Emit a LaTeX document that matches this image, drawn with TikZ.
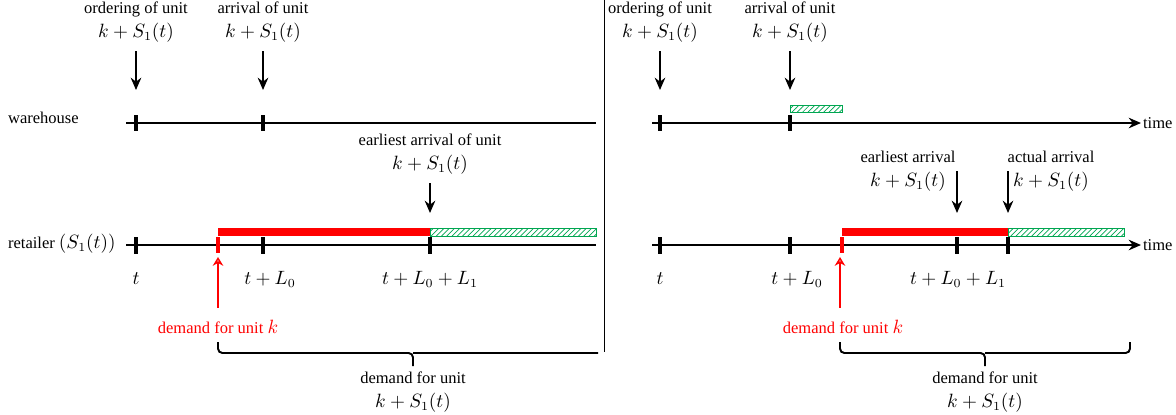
\documentclass[tikz,border=0pt]{standalone}
\usepackage{fontspec}
\setmainfont{Liberation Serif}
\usetikzlibrary{arrows.meta,positioning,patterns,calc}
\definecolor{hgreen}{RGB}{0,166,81}
\newcommand{\mth}[1]{{\fontsize{10.5}{12}\selectfont$#1$}}
\newcommand{\kS}{\mth{k+S_1(t)}}

\begin{document}
\begin{tikzpicture}[x=0.02cm,y=-0.02cm,
  lbl/.style={align=center,font=\rmfamily\fontsize{9.4}{11.5}\selectfont,inner sep=1pt},
  axis/.style={line width=1.1pt},
  taxis/.style={line width=1.1pt,-{Stealth[length=7pt,width=6pt]}},
  tck/.style={line width=1.9pt},
  rtck/.style={line width=1.9pt,red},
  arr/.style={-{Stealth[length=7pt,width=6pt]},line width=1.1pt},
  rarr/.style={-{Stealth[length=5pt,width=6pt,open]},line width=1.1pt,red},
  redbar/.style={fill=red},
  grnbar/.style={pattern={north east lines},pattern color=hgreen,draw=hgreen,line width=0.5pt},
  brc/.style={line width=1.1pt,rounded corners=2.5pt}]
\useasboundingbox (0,0) rectangle (1176,414);

% left panel: warehouse
\node[lbl] (ordL) at (136,22) {ordering of unit\\[2pt]\kS};
\node[lbl] (arrL) at (263,22) {arrival of unit\\[2pt]\kS};
\coordinate (ordLt) at (136,90);
\coordinate (arrLt) at (263,90);
\draw[arr,shorten <=4pt] (ordL) -- (ordLt);
\draw[arr,shorten <=4pt] (arrL) -- (arrLt);
\node[lbl,anchor=west] (whL) at (6,118) {warehouse};
\coordinate (whL0) at (126,123);
\coordinate (whL1) at (596,123);
\draw[axis] (whL0) -- (whL1);
\foreach \x in {136,263} \draw[tck] (\x,115) -- (\x,131);

% left panel: retailer
\node[lbl,anchor=west] (rtL) at (6,244) {retailer \mth{(S_1(t))}};
\node[lbl] (eaL) at (430,154) {earliest arrival of unit\\[2pt]\kS};
\coordinate (eaLt) at (430,213);
\draw[arr,shorten <=4pt] (eaL) -- (eaLt);
\fill[redbar] (218,228) rectangle (430,236);
\draw[grnbar] (430,228) rectangle (596,236);
\coordinate (rtL0) at (126,245);
\coordinate (rtL1) at (596,245);
\draw[axis] (rtL0) -- (rtL1);
\foreach \x in {136,263,430} \draw[tck] (\x,237) -- (\x,254);
\draw[rtck] (218,237) -- (218,253);
\node[lbl] (tL) at (136,279) {\mth{t}};
\node[lbl] (tLa) at (270,279) {\mth{t+L_0}};
\node[lbl] (tLb) at (430,279) {\mth{t+L_0+L_1}};
\node[lbl,red] (dkL) at (218,327) {demand for unit \mth{k}};
\coordinate (dkLt) at (218,257);
\draw[rarr,shorten <=6pt] (dkL) -- (dkLt);
\begin{scope}
\clip (0,0) rectangle (598,414);
\coordinate (bL0) at (218,342);
\coordinate (bL1) at (608,342);
\coordinate (bLm) at (413,353);
\coordinate (bLt) at (413,366);
\draw[brc] (bL0) |- (bLm) -- (bLt);
\draw[brc] (bL1) |- (bLm);
\end{scope}
\node[lbl] (duL) at (413,392) {demand for unit\\[2pt]\kS};

\draw[line width=0.5pt] (604,0) -- (604,352);

% right panel: warehouse
\node[lbl] (ordR) at (660,22) {ordering of unit\\[2pt]\kS};
\node[lbl] (arrR) at (790,22) {arrival of unit\\[2pt]\kS};
\coordinate (ordRt) at (660,90);
\coordinate (arrRt) at (790,90);
\draw[arr,shorten <=4pt] (ordR) -- (ordRt);
\draw[arr,shorten <=4pt] (arrR) -- (arrRt);
\draw[grnbar] (790,105) rectangle (842,112);
\coordinate (whR0) at (652,123);
\node[lbl,anchor=west] (whR) at (1141,123) {time};
\draw[taxis] (whR0) -- (whR);
\foreach \x in {660,790} \draw[tck] (\x,115) -- (\x,131);

% right panel: retailer
\node[lbl] (eaR) at (908,171) {earliest arrival\\[2pt]\kS};
\node[lbl] (aaR) at (1051,171) {actual arrival\\[2pt]\kS};
\coordinate (eaRt) at (957,213);
\coordinate (aaRt) at (1008,213);
\draw[arr] (eaRt |- eaR.center) -- (eaRt);
\draw[arr] (aaRt |- aaR.center) -- (aaRt);
\fill[redbar] (842,228) rectangle (1008,236);
\draw[grnbar] (1008,228) rectangle (1124,236);
\coordinate (rtR0) at (652,245);
\node[lbl,anchor=west] (rtR) at (1141,245) {time};
\draw[taxis] (rtR0) -- (rtR);
\foreach \x in {660,790,957,1008} \draw[tck] (\x,237) -- (\x,254);
\draw[rtck] (842,237) -- (842,253);
\node[lbl] (tR) at (660,279) {\mth{t}};
\node[lbl] (tRa) at (797,279) {\mth{t+L_0}};
\node[lbl] (tRb) at (958,279) {\mth{t+L_0+L_1}};
\node[lbl,red] (dkR) at (843,327) {demand for unit \mth{k}};
\coordinate (dkRt) at (840,257);
\draw[rarr,shorten <=6pt] (dkR.north -| dkRt) -- (dkRt);
\coordinate (bR0) at (840,342);
\coordinate (bR1) at (1130,342);
\coordinate (bRm) at (985,353);
\coordinate (bRt) at (985,366);
\draw[brc] (bR0) |- (bRm) -- (bRt);
\draw[brc] (bR1) |- (bRm);
\node[lbl] (duR) at (985,392) {demand for unit\\[2pt]\kS};
\end{tikzpicture}
\end{document}
